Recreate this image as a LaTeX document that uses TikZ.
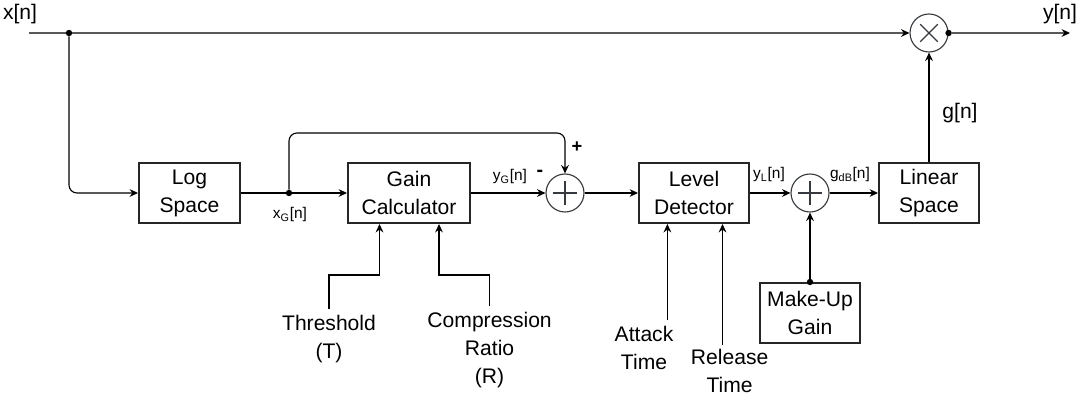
\documentclass[tikz,border=0pt]{standalone}
\usepackage{fontspec}
\setmainfont{Liberation Sans}
\usepackage{tikz}
\usetikzlibrary{arrows.meta, calc}

\definecolor{sumgray}{HTML}{36393D}

\tikzset{
	block/.style={draw=black!85, line width=1.4pt, minimum height=1.5cm, align=center, font=\fontsize{15}{20}\selectfont},
	summer/.style={circle, draw=sumgray, line width=0.8pt, minimum size=0.95cm, inner sep=0pt},
	param/.style={align=center, anchor=north, inner sep=0.15cm, font=\fontsize{15}{20}\selectfont},
	sig/.style={font=\fontsize{11}{13}\selectfont},
	bigsig/.style={font=\fontsize{15}{18}\selectfont},
	junction/.style={circle, fill=black, minimum size=0.16cm, inner sep=0pt},
	wire/.style={line width=0.8pt, -{Stealth[length=6pt, width=5.5pt, inset=2pt]}},
}

\begin{document}
\begin{tikzpicture}
			\useasboundingbox (0,0) rectangle (27,-10);

			% main chain
			\node[block, minimum width=2.525cm] (log) at (4.7375,-4.825) {Log\\Space};
			\node[block, minimum width=3.05cm] (gain) [node distance=5.4875cm, right of=log] {Gain\\Calculator};
			\node[summer] (sum1) [node distance=3.9cm, right of=gain] {};
			\node[block, minimum width=2.75cm] (level) [node distance=3.225cm, right of=sum1] {Level\\Detector};
			\node[summer] (sum2) [node distance=2.9cm, right of=level] {};
			\node[block, minimum width=2.5cm] (linear) [node distance=2.975cm, right of=sum2] {Linear\\Space};
			\node[summer] (mult) [node distance=4cm, above of=linear] {};
			\node[block, minimum width=2.5cm] (makeup) [node distance=3cm, below of=sum2] {Make-Up\\Gain};

			% parameters
			\node[param] (thr) at (8.225,-7.725) {Threshold\\(T)};
			\node[param] (cr) at (12.24,-7.65) {Compression\\Ratio\\(R)};
			\node[param] (atk) at (16.1,-8.0) {Attack\\Time};
			\node[param, inner sep=0.1cm] (rel) at (18.24,-8.62) {Release\\Time};

			\coordinate (in) at (0.725,-0.825);
			\coordinate (out) at (26.75,-0.825);
			\node[junction] (split) at (1.725,-0.825) {};
			\node[junction] (xg) at (7.225,-4.825) {};
			\node[junction] (multdot) at (mult.east) {};
			\node[junction] (mudot) at (makeup.north) {};
			\coordinate (fb) at ($(xg)+(0,1.5)$);
			\coordinate (thrin) at ($(gain.south)+(-0.7375,0)$);
			\coordinate (crin) at ($(gain.south)+(0.75,0)$);
			\coordinate (atkin) at ($(level.south)+(-0.665,0)$);
			\coordinate (relin) at ($(level.south)+(0.7125,0)$);

			% signs in the circles
			\foreach \s in {sum1,sum2}
				\draw[sumgray, line width=0.8pt] ($(\s)+(-0.31,0)$) -- ($(\s)+(0.31,0)$) ($(\s)+(0,-0.31)$) -- ($(\s)+(0,0.31)$);
			\draw[sumgray, line width=0.8pt] ($(mult)+(-0.22,-0.22)$) -- ($(mult)+(0.22,0.22)$) ($(mult)+(-0.22,0.22)$) -- ($(mult)+(0.22,-0.22)$);

			% connectors
			\draw[wire] (in) -- (mult.west);
			\draw[wire, rounded corners=0.2cm] (split) |- (log.west);
			\draw[line width=0.8pt] (log.east) -- (xg);
			\draw[wire] (xg) -- (gain.west);
			\draw[wire, rounded corners=0.2cm] (xg) -- (fb) -| (sum1.north);
			\draw[wire] (gain.east) -- (sum1.west);
			\draw[wire] (sum1.east) -- (level.west);
			\draw[wire] (level.east) -- (sum2.west);
			\draw[wire] (sum2.east) -- (linear.west);
			\draw[wire] (mudot) -- (sum2.south);
			\draw[wire] (linear.north) -- (mult.south);
			\draw[wire] (multdot) -- (out);
			\draw[wire] (thr.north) -- ++(0,0.85) -| (thrin);
			\draw[wire] (cr.north) -- ++(0,0.775) -| (crin);
			\draw[wire] (atk.north -| atkin) -- (atkin);
			\draw[wire] (rel.north -| relin) -- (relin);

			% signal labels
			\node[bigsig] (xlab) at (0.5,-0.35) {x[n]};
			\node[bigsig] (ylab) at (26.5,-0.35) {y[n]};
			\node[bigsig] (glab) at (24.0,-2.825) {g[n]};
			\node[sig] (xglab) at (7.25,-5.375) {x\textsubscript{G}[n]};
			\node[sig] (yglab) at (12.75,-4.425) {y\textsubscript{G}[n]};
			\node[sig] (yllab) at (19.225,-4.375) {y\textsubscript{L}[n]};
			\node[sig] (gdblab) at (21.25,-4.375) {g\textsubscript{dB}[n]};
			\node[font=\fontsize{14}{16}\selectfont\bfseries] (minus) at (13.5,-4.325) {-};
			\node[font=\fontsize{13}{16}\selectfont\bfseries] (plus) at (14.425,-3.675) {+};
		\end{tikzpicture}
\end{document}
